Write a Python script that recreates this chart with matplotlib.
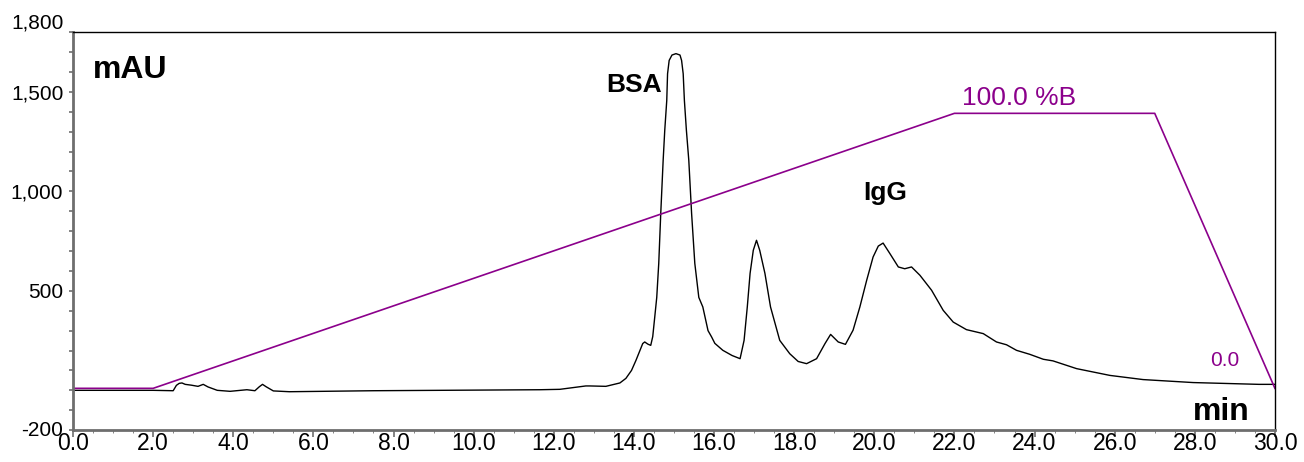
import numpy as np
import matplotlib.pyplot as plt
from matplotlib.ticker import MultipleLocator, FuncFormatter

plt.rcParams['font.family'] = ['Liberation Sans', 'DejaVu Sans']

# chromatogram trace (min, mAU)
time_min = [0.0, 1.0, 2.0, 2.5, 2.58, 2.65, 2.72, 2.8, 2.95, 3.12, 3.25, 3.37, 3.6, 3.92,
            4.34, 4.54, 4.65, 4.73, 4.82, 5.0, 5.4, 7.5, 11.65, 12.15, 12.8, 12.9, 13.3,
            13.65, 13.8, 13.94, 14.05, 14.15, 14.22, 14.27, 14.35, 14.42, 14.47, 14.52,
            14.57, 14.62, 14.67, 14.73, 14.77, 14.82, 14.84, 14.88, 14.95, 15.05, 15.15,
            15.19, 15.23, 15.26, 15.31, 15.37, 15.44, 15.52, 15.62, 15.72, 15.85, 15.94,
            16.02, 16.22, 16.45, 16.65, 16.75, 16.83, 16.9, 16.98, 17.06, 17.14, 17.27,
            17.41, 17.64, 17.89, 18.1, 18.31, 18.56, 18.77, 18.91, 19.1, 19.28, 19.47,
            19.64, 19.81, 19.97, 20.1, 20.22, 20.39, 20.6, 20.76, 20.93, 21.14, 21.43,
            21.72, 21.97, 22.3, 22.72, 23.05, 23.3, 23.55, 23.88, 24.22, 24.46, 25.05,
            25.88, 26.71, 27.96, 29.6, 30.0]
absorbance = [0, 0, 0, -2, 25, 35, 37, 30, 26, 20, 30, 17, 0, -5,
              3, -2, 18, 30, 18, -3, -7, -2, 3, 5, 22, 22, 20,
              37, 60, 100, 150, 200, 235, 243, 232, 226, 270, 368,
              467, 638, 889, 1156, 1307, 1457, 1591, 1658, 1685, 1692, 1685,
              1658, 1591, 1457, 1307, 1156, 889, 638, 467, 419, 300, 268,
              236, 201, 175, 159, 251, 419, 588, 704, 754, 704, 588,
              419, 251, 184, 145, 134, 159, 235, 281, 243, 231, 302,
              419, 553, 670, 725, 740, 687, 620, 611, 620, 578, 503,
              402, 343, 305, 285, 243, 229, 201, 181, 156, 148, 109,
              75, 54, 39, 30, 30]

# gradient program (min, %B)
grad_time = [0.0, 2.0, 22.0, 27.0, 30.0]
grad_pct = [0, 0, 100, 100, 0]
# %B drawn on the mAU scale: 0 %B -> 10 mAU, 100 %B -> 1392 mAU
grad_zero = 10
grad_scale = 13.82

purple = '#8B008B'
grey = '#6e6e6e'

fig = plt.figure(figsize=(13.04, 4.62), dpi=100)
ax = fig.add_axes([0.056, 0.069, 0.9217, 0.8614])

ax.plot(time_min, absorbance, color='black', linewidth=1.0)
ax.plot(grad_time, grad_zero + grad_scale * np.array(grad_pct), color=purple, linewidth=1.2)

ax.set_xlim(0, 30)
ax.set_ylim(-200, 1800)

# axes frame
ax.spines['left'].set_color(grey)
ax.spines['left'].set_linewidth(2)
ax.spines['bottom'].set_color(grey)
ax.spines['bottom'].set_linewidth(2)
ax.spines['top'].set_linewidth(1)
ax.spines['right'].set_linewidth(1)

ax.xaxis.set_major_locator(MultipleLocator(2))
ax.xaxis.set_minor_locator(MultipleLocator(0.5))
ax.xaxis.set_major_formatter(FuncFormatter(lambda v, p: f'{v:.1f}'))

y_labelled = [-200, 500, 1000, 1500, 1800]
ax.set_yticks(np.arange(-200, 1801, 100))
ax.yaxis.set_major_formatter(FuncFormatter(
    lambda v, p: f'{int(round(v)):,}' if int(round(v)) in y_labelled else ''))

ax.tick_params(axis='both', which='major', color=grey, width=1.2)
ax.tick_params(axis='x', which='major', length=5, pad=-4, labelsize=16.5)
ax.tick_params(axis='y', which='major', length=3, pad=4, labelsize=15)
ax.tick_params(axis='x', which='minor', length=2.2, color=grey)
ax.tick_params(axis='y', which='minor', length=0)

for lab in ax.get_yticklabels():
    if lab.get_text() == '1,800':
        lab.set_va('bottom')
    elif lab.get_text() == '-200':
        lab.set_va('center')
        lab.set_y(-230)

ax.text(0.5, 1608, 'mAU', fontsize=23, fontweight='bold', va='center', ha='left')
ax.text(29.37, -110, 'min', fontsize=23, fontweight='bold', va='center', ha='right')
ax.text(14.7, 1533, 'BSA', fontsize=19, fontweight='bold', va='center', ha='right')
ax.text(20.26, 990, 'IgG', fontsize=19, fontweight='bold', va='center', ha='center')
ax.text(22.19, 1467, '100.0 %B', fontsize=19, color=purple, va='center', ha='left')
ax.text(28.75, 151, '0.0', fontsize=15, color=purple, va='center', ha='center')

plt.savefig('out.png', dpi=100)
